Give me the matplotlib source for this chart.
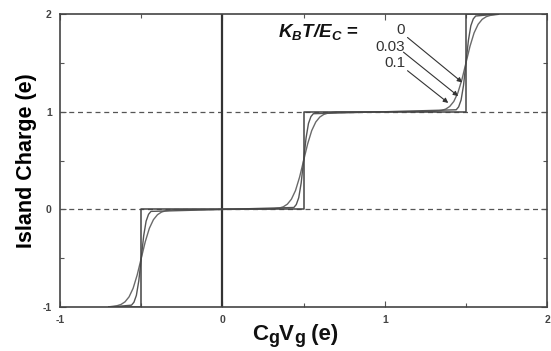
import matplotlib
matplotlib.use("Agg")
import matplotlib.pyplot as plt
from matplotlib.ticker import MultipleLocator

plt.rcParams['font.family'] = ['Liberation Sans', 'DejaVu Sans']
plt.rcParams['mathtext.fontset'] = 'custom'
plt.rcParams['mathtext.rm'] = 'Liberation Sans'
plt.rcParams['mathtext.it'] = 'Liberation Sans:italic'
plt.rcParams['mathtext.bf'] = 'Liberation Sans:bold'
plt.rcParams['mathtext.bfit'] = 'Liberation Sans:bold:italic'

# ---- data ----
temps = ["0", "0.03", "0.1"]

x_t0 = [-0.70, -0.50, -0.50, 0.50, 0.50, 1.50, 1.50, 1.70]
q_t0 = [-1.0, -1.0, 0.0, 0.0, 1.0, 1.0, 2.0, 2.0]

x_t003 = [-0.70, -0.56, -0.545, -0.53, -0.515, -0.50, -0.485, -0.47, -0.455, -0.44,
          0.44, 0.455, 0.47, 0.485, 0.50, 0.515, 0.53, 0.545, 0.56,
          1.44, 1.455, 1.47, 1.485, 1.50, 1.515, 1.53, 1.545, 1.56, 1.70]
q_t003 = [-1.0, -0.98, -0.95, -0.88, -0.73, -0.50, -0.27, -0.12, -0.05, -0.02,
          0.02, 0.05, 0.12, 0.27, 0.50, 0.73, 0.88, 0.95, 0.98,
          1.02, 1.05, 1.12, 1.27, 1.50, 1.73, 1.88, 1.95, 1.98, 2.0]

x_t01 = [-0.70, -0.65, -0.625, -0.60, -0.575, -0.55, -0.525, -0.50, -0.475, -0.45,
         -0.425, -0.40, -0.375, -0.35, -0.30,
         0.30, 0.35, 0.375, 0.40, 0.425, 0.45, 0.475, 0.50, 0.525, 0.55,
         0.575, 0.60, 0.625, 0.65, 0.70,
         1.30, 1.35, 1.375, 1.40, 1.425, 1.45, 1.475, 1.50, 1.525, 1.55,
         1.575, 1.60, 1.625, 1.65, 1.70]
q_t01 = [-0.997, -0.986, -0.973, -0.946, -0.895, -0.807, -0.671, -0.50, -0.329, -0.193,
         -0.105, -0.054, -0.027, -0.014, -0.003,
         0.003, 0.014, 0.027, 0.054, 0.105, 0.193, 0.329, 0.50, 0.671, 0.807,
         0.895, 0.946, 0.973, 0.986, 0.997,
         1.003, 1.014, 1.027, 1.054, 1.105, 1.193, 1.329, 1.50, 1.671, 1.807,
         1.895, 1.946, 1.973, 1.986, 1.997]

label_pos = [(1.126, 1.84), (1.126, 1.66), (1.126, 1.50)]
arrow_start = [(1.14, 1.76), (1.115, 1.61), (1.14, 1.42)]
arrow_end = [(1.477, 1.30), (1.452, 1.16), (1.391, 1.09)]

xticks = [-1, 0, 1, 2]
yticks = [-1, 0, 1, 2]

# ---- figure ----
fig = plt.figure(figsize=(5.51, 3.51), dpi=100)
ax = fig.add_axes([0.109, 0.125, 0.884, 0.835])

ax.axhline(0, color='#555555', lw=0.9, ls=(0, (4, 3)))
ax.axhline(1, color='#555555', lw=0.9, ls=(0, (4, 3)))
ax.axvline(0, color='#333333', lw=1.6)

ax.plot(x_t01, q_t01, color='#6a6a6a', lw=1.0)
ax.plot(x_t003, q_t003, color='#555555', lw=1.0)
ax.plot(x_t0, q_t0, color='#444444', lw=1.1)

ax.set_xlim(-1, 2)
ax.set_ylim(-1, 2)
ax.set_xticks(xticks)
ax.set_yticks(yticks)
ax.set_xticklabels([str(t) for t in xticks])
ax.set_yticklabels([str(t) for t in yticks])
ax.xaxis.set_minor_locator(MultipleLocator(0.5))
ax.yaxis.set_minor_locator(MultipleLocator(0.5))
ax.tick_params(which='both', direction='in', top=True, right=True,
               color='#555555', width=0.8)
ax.tick_params(which='major', length=4, labelsize=7.5, labelcolor='#444444', pad=6)
ax.tick_params(which='minor', length=3)
for lbl in ax.get_xticklabels() + ax.get_yticklabels():
    lbl.set_fontweight('bold')
for s in ax.spines.values():
    s.set_color('#444444')
    s.set_linewidth(1.2)

ax.set_ylabel('Island Charge (e)', fontsize=15.5, fontweight='bold', labelpad=4)

# x label built from pieces so the subscripts stay large
pieces = [('C', 16, 0.0), ('g', 13, -1.5), ('V', 16, 0.0), ('g', 13, -1.5), (' (e)', 16, 0.0)]
prev = fig.text(252 / 551, 1 - 340 / 351, pieces[0][0], fontsize=pieces[0][1],
                fontweight='bold', va='baseline', ha='left', color='#111111')
prev_dy = 0.0
for txt, fs, dy in pieces[1:]:
    prev = ax.annotate(txt, xy=(1, 0), xycoords=prev, xytext=(0, dy - prev_dy),
                       textcoords='offset points', fontsize=fs, fontweight='bold',
                       va='bottom', ha='left', color='#111111', annotation_clip=False)
    prev_dy = dy

ax.text(0.34, 1.82, r'$\mathbfit{K_BT/E_C}$ =', fontsize=13.5, fontweight='bold',
        ha='left', va='center', color='#111111')

for t, (tx, ty), s, e in zip(temps, label_pos, arrow_start, arrow_end):
    ax.text(tx, ty, t, fontsize=11, ha='right', va='center', color='#333333')
    ax.annotate('', xy=e, xytext=s,
                arrowprops=dict(arrowstyle='-|>', color='#333333', lw=0.8,
                                mutation_scale=7, shrinkA=0, shrinkB=0))

fig.savefig('out.png', dpi=100)
